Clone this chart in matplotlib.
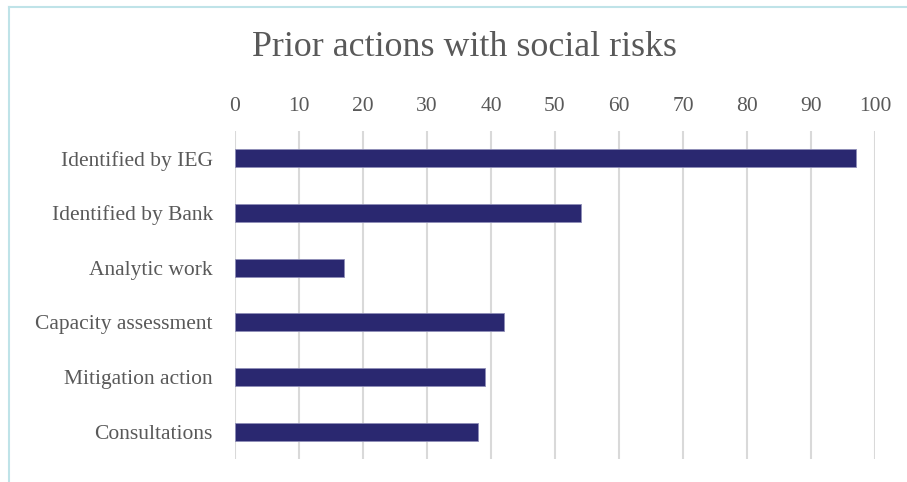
import matplotlib.pyplot as plt
from matplotlib.lines import Line2D

categories = ["Identified by IEG", "Identified by Bank", "Analytic work",
              "Capacity assessment", "Mitigation action", "Consultations"]
values = [97, 54, 17, 42, 39, 38]
xticks = list(range(0, 101, 10))

plt.rcParams['font.family'] = ['Liberation Serif', 'DejaVu Serif']

fig = plt.figure(figsize=(9.07, 4.82), dpi=100)
ax = fig.add_axes([235 / 907, 1 - 459 / 482, 640 / 907, 328 / 482])

# light blue frame lines (top and left only, like the cropped original)
fig.add_artist(Line2D([9 / 907, 1], [1 - 7 / 482, 1 - 7 / 482], color='#BFE3E8', lw=1.5))
fig.add_artist(Line2D([9 / 907, 9 / 907], [0, 1 - 7 / 482], color='#BFE3E8', lw=1.5))

y = list(range(len(categories)))
ax.barh(y, values, height=0.33, color='#2A2870', edgecolor='#8F8EB8', linewidth=0.6, zorder=3)

ax.set_xlim(0, 100)
ax.set_ylim(len(categories) - 0.5, -0.5)
ax.set_yticks(y)
ax.set_yticklabels(categories, fontsize=15.5, color='#595959')
ax.set_xticks(xticks)
ax.xaxis.tick_top()
ax.tick_params(axis='x', labelsize=15.5, labelcolor='#595959', length=0, pad=11)
ax.tick_params(axis='y', length=0, pad=16)
ax.grid(axis='x', color='#D9D9D9', lw=1.5, zorder=0)
for s in ax.spines.values():
    s.set_visible(False)

fig.text(464 / 907, 1 - 48 / 482, "Prior actions with social risks", ha='center', va='center',
         fontsize=25.8, color='#595959')

fig.savefig("out.png", dpi=100)
